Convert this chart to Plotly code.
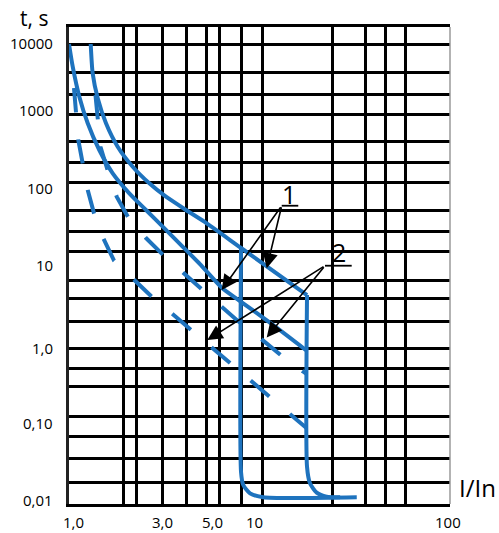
import numpy as np
import plotly.graph_objects as go

# ---------------- data (I/In, t in s) ----------------
x_range_vals = [1.0, 100.0]
y_range_vals = [0.00886, 16740.0]

x_grid = [1.94, 2.25, 3.08, 4.16, 5.24, 6.13, 8.0, 10.4, 24.3, 35.8, 45.6, 58.7]
y_grid = [10000, 4190, 2180, 1199, 518, 277, 151, 63.5, 34.6, 18.8, 7.69, 4.45,
          2.22, 1.0, 0.541, 0.307, 0.127, 0.0681, 0.0354, 0.0169]

x_tick_text = ["1,0", "3,0", "5,0", "10", "100"]
x_tick_pos = [1.05, 3.08, 5.64, 9.46, 97.7]
x_tick_row = 0.00514
y_tick_text = ["10000", "1000", "100", "10", "1,0", "0,10", "0,01"]
y_tick_pos = [10310, 1354, 127.4, 12.4, 1.0, 0.103, 0.01]
y_tick_col = 0.844

# curve 1, upper solid (thermal part)
c1u_x = [1.30, 1.331, 1.415, 1.564, 1.801, 2.16, 2.64, 3.23, 4.11, 5.13, 8.0, 17.76]
c1u_y = [10000, 4115, 1931, 905, 445, 243, 147, 97.9, 65.4, 45.9, 20.7, 4.98]
# upper magnetic limit (right vertical) and its foot
mag_hi_x = [17.76, 17.76, 18.41, 19.96, 22.5, 26.5]
mag_hi_y = [4.98, 0.0274, 0.0166, 0.01248, 0.01105, 0.01084]
# lower magnetic limit (left vertical) and bottom line
mag_lo_x = [8.0, 8.0, 8.22, 8.92, 10.47, 32.4]
mag_lo_y = [20.7, 0.0233, 0.01575, 0.01225, 0.01084, 0.01084]
# curve 1, lower solid
c1l_x = [1.0, 1.046, 1.133, 1.254, 1.442, 1.696, 2.073, 2.536, 3.104, 3.97, 4.87, 6.36,
         7.90, 11.77, 17.76]
c1l_y = [10000, 5025, 2027, 905, 403, 199, 108.5, 65.4, 39.5, 21.3, 12.7, 6.16,
         4.15, 2.01, 0.913]
# curve 2, left dashed
c2l_x = [1.062, 1.088, 1.119, 1.18, 1.254, 1.353, 1.514, 1.723, 2.36, 2.72, 3.46, 4.35,
         5.61, 6.94, 8.92, 11.25, 14.33, 17.7]
c2l_y = [2637, 1236, 546, 269, 120, 59.2, 27.8, 14.1, 6.75, 4.73, 2.86, 1.76,
         1.04, 0.641, 0.379, 0.234, 0.138, 0.0878]
# curve 2, right dashed
c2r_x = [1.377, 1.411, 1.463, 1.593, 1.78, 2.04, 2.536, 3.126, 3.98, 4.975, 6.33, 7.59,
         10.27, 12.92, 16.98, 17.7]
c2r_y = [2133, 1016, 445, 220, 97.9, 52.9, 28.0, 16.7, 9.61, 5.92, 3.49, 2.34,
         1.30, 0.809, 0.488, 0.455]

# callouts
lab1_text, lab1_pos = "1", (14.29, 106.0)
lead1_x, lead1_y = [13.08, 15.98], [74.5, 74.5]
arr1_tips = [(6.33, 5.80), (10.91, 11.19)]
lab2_text, lab2_pos = "2", (26.1, 18.6)
lead2_x, lead2_y = [22.07, 30.48], [12.1, 12.1]
arr2_tips = [(5.32, 1.274), (10.91, 1.375)]

y_title, y_title_pos = "t, s", (0.655, 22000)
x_title, x_title_pos = "I/In", (138.6, 0.01439)

# ---------------- styling ----------------
BLUE = "#1e73be"
FONT = "Open Sans"
LW = 4

L = np.log10
XR = [L(x_range_vals[0]), L(x_range_vals[1])]
YR = [L(y_range_vals[0]), L(y_range_vals[1])]

def xpaper(v):
    return (L(v) - XR[0]) / (XR[1] - XR[0])

def ypaper(v):
    return (L(v) - YR[0]) / (YR[1] - YR[0])

fig = go.Figure()

def add_line(xs, ys, dash="solid", shape="spline"):
    line = dict(color=BLUE, width=LW, dash=dash, shape=shape)
    if shape == "spline":
        line["smoothing"] = 0.6
    fig.add_trace(go.Scatter(x=xs, y=ys, mode="lines", line=line, hoverinfo="skip"))

add_line(c1u_x, c1u_y)
add_line(mag_hi_x, mag_hi_y)
add_line(mag_lo_x, mag_lo_y)
add_line(c1l_x, c1l_y)
add_line(c2l_x, c2l_y, dash="24.5px,27px", shape="linear")
add_line(c2r_x, c2r_y, dash="24.5px,27px", shape="linear")

for lx, ly in [(lead1_x, lead1_y), (lead2_x, lead2_y)]:
    fig.add_trace(go.Scatter(x=lx, y=ly, mode="lines",
                             line=dict(color="black", width=1.8), hoverinfo="skip"))

ann = []
for tips, lx, ly in [(arr1_tips, lead1_x, lead1_y), (arr2_tips, lead2_x, lead2_y)]:
    for (tx, ty) in tips:
        ann.append(dict(x=L(tx), y=L(ty), ax=L(lx[0]), ay=L(ly[0]),
                        xref="x", yref="y", axref="x", ayref="y", text="",
                        showarrow=True, arrowhead=2, arrowsize=1.9, arrowwidth=1.6,
                        arrowcolor="black", standoff=0, startstandoff=0))

for txt, pos in [(lab1_text, lab1_pos), (lab2_text, lab2_pos)]:
    ann.append(dict(x=L(pos[0]), y=L(pos[1]), xref="x", yref="y", text=txt,
                    showarrow=False, font=dict(family=FONT, size=25, color="black"),
                    xanchor="center", yanchor="middle"))

for txt, xv in zip(x_tick_text, x_tick_pos):
    ann.append(dict(x=xpaper(xv), y=ypaper(x_tick_row), xref="paper", yref="paper",
                    text=txt, showarrow=False,
                    font=dict(family=FONT, size=15, color="black"),
                    xanchor="center", yanchor="middle"))
for txt, yv in zip(y_tick_text, y_tick_pos):
    ann.append(dict(x=xpaper(y_tick_col), y=ypaper(yv), xref="paper", yref="paper",
                    text=txt, showarrow=False,
                    font=dict(family=FONT, size=15, color="black"),
                    xanchor="right", yanchor="middle"))

ann.append(dict(x=xpaper(y_title_pos[0]), y=ypaper(y_title_pos[1]),
                xref="paper", yref="paper", text=y_title, showarrow=False,
                font=dict(family=FONT, size=21, color="black"),
                xanchor="center", yanchor="middle"))
ann.append(dict(x=xpaper(x_title_pos[0]), y=ypaper(x_title_pos[1]),
                xref="paper", yref="paper", text=x_title, showarrow=False,
                font=dict(family=FONT, size=24, color="black"),
                xanchor="center", yanchor="middle"))

fig.update_layout(
    width=499, height=533,
    margin=dict(l=69, r=49, t=27, b=29, pad=0),
    plot_bgcolor="white", paper_bgcolor="white",
    showlegend=False,
    annotations=ann,
    xaxis=dict(type="log", range=XR,
               tickvals=x_grid, showticklabels=False, ticks="",
               showgrid=True, gridcolor="black", gridwidth=2.5,
               showline=True, linecolor="black", linewidth=2.5, mirror=True,
               zeroline=False),
    yaxis=dict(type="log", range=YR,
               tickvals=y_grid, showticklabels=False, ticks="",
               showgrid=True, gridcolor="black", gridwidth=2.5,
               showline=True, linecolor="#222222", linewidth=2.8,
               zeroline=False),
    shapes=[dict(type="line", xref="paper", yref="paper", x0=1, x1=1, y0=0, y1=1,
                 line=dict(color="#9a9a9a", width=1.5))],
)

fig.write_html("out.html", config={"displayModeBar": False},
               post_script="document.body.style.margin='0';")
